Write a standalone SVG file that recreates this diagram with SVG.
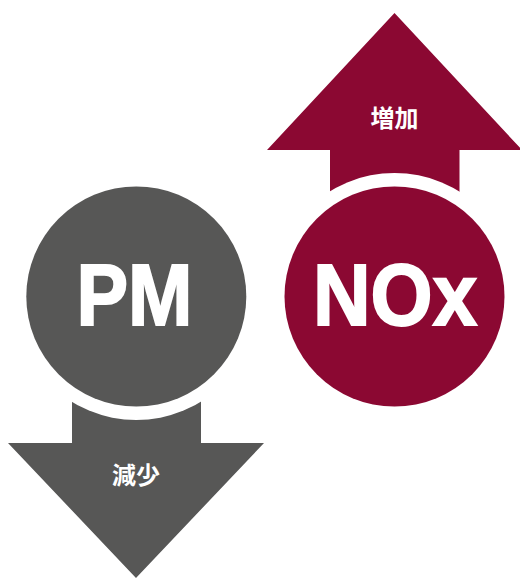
<svg xmlns="http://www.w3.org/2000/svg" width="520" height="578" viewBox="0 0 520 578">
  <style>
    .red { fill: #8B0832; }
    .grey { fill: #575756; }
    .gap { fill: #FFFFFF; }
    .big { font-family: "Liberation Sans", "DejaVu Sans", sans-serif; font-weight: bold; font-size: 88px; fill: #FFFFFF; stroke: #FFFFFF; stroke-width: 2; stroke-linejoin: miter; text-anchor: middle; }
    .small { font-family: "Noto Sans CJK JP", "Noto Sans CJK SC", sans-serif; font-weight: bold; font-size: 24px; fill: #FFFFFF; text-anchor: middle; }
  </style>
  <rect width="520" height="578" fill="#FFFFFF"/>

  <!-- Arrows (connectors) -->
  <g id="connectors">
    <polygon id="arrow-up" class="red" points="394.5,13 522,150 459.5,150 459.5,260 330,260 330,150 267,150"/>
    <polygon id="arrow-down" class="grey" points="72,340 201,340 201,443 264,443 136,578 8,443 72,443"/>
  </g>

  <!-- PM node -->
  <g id="node-pm">
    <circle class="gap" cx="136.3" cy="296.5" r="123.5"/>
    <circle class="grey" cx="136.3" cy="296.5" r="110"/>
    <text class="big" x="134.5" y="324.5" textLength="116" lengthAdjust="spacingAndGlyphs">PM</text>
  </g>

  <!-- NOx node -->
  <g id="node-nox">
    <circle class="gap" cx="394.5" cy="296.5" r="123.5"/>
    <circle class="red" cx="394.5" cy="296.5" r="110"/>
    <text class="big" x="395" y="325" textLength="164" lengthAdjust="spacingAndGlyphs">NOx</text>
  </g>

  <!-- Arrow labels -->
  <g id="label-up">
    <text class="small" x="394.5" y="127">増加</text>
  </g>
  <g id="label-down">
    <text class="small" x="136" y="484">減少</text>
  </g>
</svg>
